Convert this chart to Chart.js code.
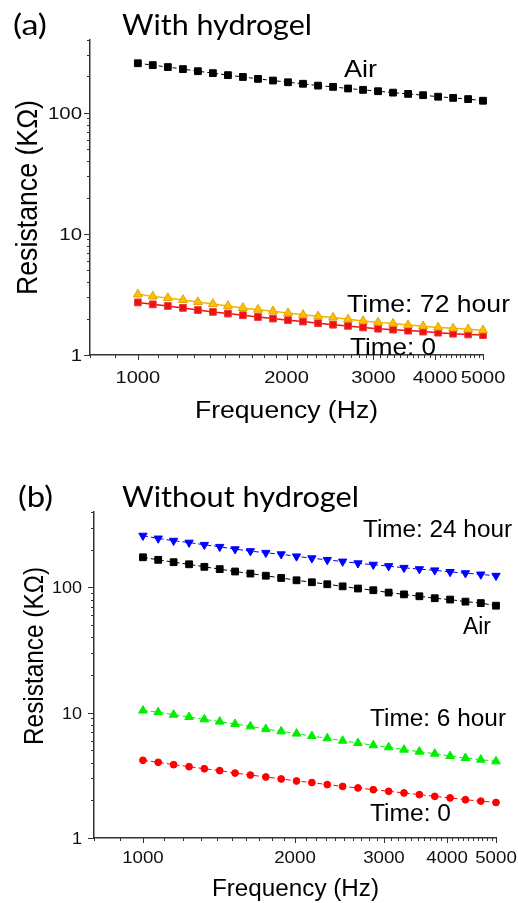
<!DOCTYPE html>
<html>
<head>
<meta charset="utf-8">
<script src="https://cdn.jsdelivr.net/npm/chart.js@4.4.1/dist/chart.umd.min.js"></script>
<style>
  html, body { margin: 0; padding: 0; background: #fff; }
  body { width: 518px; height: 903px; position: relative; overflow: hidden; }
  canvas { position: absolute; left: 0; }
  #cA { top: 0; }
  #cB { top: 450px; }
</style>
</head>
<body>
<canvas id="cA" width="518" height="450"></canvas>
<canvas id="cB" width="518" height="453"></canvas>
<script>
// ---------------- data ----------------
const freqHz = [1000, 1072, 1150, 1234, 1323, 1419, 1522, 1632, 1751, 1878, 2014, 2160,
                2317, 2485, 2665, 2858, 3065, 3287, 3526, 3782, 4056, 4350, 4665, 5000];

// (a) With hydrogel, resistance in kOhm
const withAir  = [257, 248, 239, 230, 221, 213, 205, 198, 191, 185, 179, 174,
                  168, 164, 159, 155, 151, 147, 143.5, 140, 136, 133, 130, 126];
const withT0   = [2.72, 2.62, 2.54, 2.45, 2.35, 2.27, 2.20, 2.13, 2.06, 2.00, 1.94, 1.89,
                  1.83, 1.78, 1.74, 1.69, 1.65, 1.62, 1.59, 1.56, 1.53, 1.50, 1.48, 1.46];
const withT72  = [3.17, 3.05, 2.96, 2.85, 2.74, 2.64, 2.54, 2.45, 2.37, 2.30, 2.22, 2.15,
                  2.09, 2.04, 1.97, 1.91, 1.86, 1.82, 1.77, 1.73, 1.69, 1.66, 1.63, 1.60];

// (b) Without hydrogel, resistance in kOhm
const withoutT24 = [259, 246, 236, 228, 219, 211, 202, 195, 189, 184, 177, 171,
                    166, 161, 156, 152, 148, 143.5, 140, 137, 133, 130, 127, 124];
const withoutAir = [174, 166, 159, 153, 146, 140, 134, 129, 124, 119, 114, 110,
                    106, 102, 98, 95, 91, 88, 85, 82, 80, 77, 75, 71.5];
const withoutT6  = [10.4, 10.1, 9.65, 9.24, 8.85, 8.49, 8.13, 7.78, 7.41, 7.10, 6.81, 6.52,
                    6.25, 5.98, 5.73, 5.50, 5.30, 5.07, 4.89, 4.71, 4.51, 4.35, 4.22, 4.09];
const withoutT0  = [4.17, 4.02, 3.85, 3.71, 3.57, 3.45, 3.30, 3.18, 3.07, 2.96, 2.85, 2.77,
                    2.67, 2.58, 2.51, 2.43, 2.36, 2.29, 2.22, 2.15, 2.09, 2.02, 1.97, 1.92];

// tick values / labels
const xMajorTicks = [1000, 2000, 3000, 4000, 5000];
const xTickLabels = ['1000', '2000', '3000', '4000', '5000'];
const yMajorTicks = [1, 10, 100];
const yTickLabels = ['1', '10', '100'];
const xRange = [800, 5000];
const yRange = [1, 400];

const panelTitles = ['With hydrogel', 'Without hydrogel'];
const panelLetters = ['(a)', '(b)'];
const xTitle = 'Frequency (Hz)';
const yTitle = 'Resistance (K\u03A9)';

// ---------------- helpers ----------------
const ARIAL = '"Liberation Sans", Arial, sans-serif';
const CAL = 'Lato, "Open Sans", sans-serif';

function pairs(ys) { return ys.map((y, i) => ({ x: freqHz[i], y: y })); }

function txt(ctx, s, x, y, o) {
  ctx.save();
  ctx.font = o.font;
  ctx.fillStyle = o.color || '#000';
  ctx.textBaseline = 'alphabetic';
  ctx.textAlign = 'left';
  const w = ctx.measureText(s).width;
  const sx = o.width ? o.width / w : (o.sx || 1);
  const dw = w * sx;
  let left = x;
  if (o.align === 'center') left = x - dw / 2;
  else if (o.align === 'right') left = x - dw;
  ctx.translate(left, y);
  ctx.scale(sx, 1);
  ctx.fillText(s, 0, 0);
  ctx.restore();
}
function vtxt(ctx, s, baseX, cy, o) {
  ctx.save();
  ctx.font = o.font;
  ctx.fillStyle = o.color || '#000';
  ctx.textBaseline = 'alphabetic';
  ctx.textAlign = 'left';
  const w = ctx.measureText(s).width;
  const along = o.length / w;
  ctx.translate(baseX, cy);
  ctx.scale(o.perp, 1);
  ctx.rotate(-Math.PI / 2);
  ctx.scale(along, 1);
  ctx.fillText(s, -w / 2, 0);
  ctx.restore();
}

function decorPlugin(p) {
  return {
    id: 'decor',
    afterDraw(chart) {
      const ctx = chart.ctx;
      const xs = chart.scales.x, ys = chart.scales.y;
      const area = chart.chartArea;
      const off = p.offsetY;
      ctx.save();
      ctx.strokeStyle = '#333';
      ctx.lineWidth = 1;
      // x ticks (outward, downward)
      for (let v = 800; v <= 5000; v += 100) {
        const px = Math.round(xs.getPixelForValue(v)) + 0.5;
        const major = xMajorTicks.includes(v);
        ctx.beginPath();
        ctx.moveTo(px, area.bottom);
        ctx.lineTo(px, area.bottom + (major ? 5 : 3));
        ctx.stroke();
      }
      // y ticks (outward, leftward)
      const yMinor = [];
      for (let d = 1; d <= 100; d *= 10) for (let k = 1; k <= 9; k++) if (k * d <= 400) yMinor.push(k * d);
      yMinor.push(400);
      yMinor.forEach(v => {
        const py = Math.round(ys.getPixelForValue(v)) + 0.5;
        const major = yMajorTicks.includes(v);
        ctx.beginPath();
        ctx.moveTo(area.left, py);
        ctx.lineTo(area.left - (major ? 6 : 3), py);
        ctx.stroke();
      });
      ctx.restore();

      // tick labels
      xMajorTicks.forEach((v, i) => {
        txt(ctx, xTickLabels[i], xs.getPixelForValue(v), p.xLabelBase - off,
            { font: '17px ' + ARIAL, sx: p.tickSx, align: 'center', color: '#111' });
      });
      yMajorTicks.forEach((v, i) => {
        txt(ctx, yTickLabels[i], p.yLabelRight, ys.getPixelForValue(v) + 6,
            { font: '17px ' + ARIAL, sx: p.yTickSx, align: 'right', color: '#111' });
      });
      // axis titles
      txt(ctx, xTitle, p.xTitle.x, p.xTitle.y - off, { font: '23px ' + ARIAL, width: p.xTitle.w });
      vtxt(ctx, yTitle, p.yTitle.x, p.yTitle.cy - off, { font: '24px ' + ARIAL, length: p.yTitle.len, perp: p.yTitle.perp });
      // panel letter + title
      txt(ctx, p.letter.s, p.letter.x, p.letter.y - off, { font: '28px ' + CAL, width: p.letter.w });
      txt(ctx, p.title.s, p.title.x, p.title.y - off, { font: '28px ' + CAL, width: p.title.w });
      // annotations
      p.notes.forEach(n => txt(ctx, n.s, n.x, n.y - off, { font: n.f + 'px ' + ARIAL, width: n.w }));
    }
  };
}

function makeChart(id, datasets, geo, p) {
  return new Chart(document.getElementById(id), {
    type: 'line',
    data: { datasets: datasets },
    options: {
      responsive: false,
      animation: false,
      devicePixelRatio: 1,
      layout: { padding: { left: 0, right: geo.right, top: geo.top, bottom: 0 } },
      plugins: { legend: { display: false }, tooltip: { enabled: false }, title: { display: false } },
      scales: {
        x: {
          type: 'logarithmic', min: xRange[0], max: xRange[1],
          grid: { display: false }, ticks: { display: false },
          border: { display: true, color: '#333', width: 1.5 },
          afterFit(s) { s.height = geo.xH; }
        },
        y: {
          type: 'logarithmic', min: yRange[0], max: yRange[1],
          grid: { display: false }, ticks: { display: false },
          border: { display: true, color: '#333', width: 1.5 },
          afterFit(s) { s.width = geo.yW; }
        }
      }
    },
    plugins: [decorPlugin(p)]
  });
}

function ds(label, ys, o) {
  return Object.assign({
    label: label, data: pairs(ys), clip: false, tension: 0,
    borderWidth: 1, pointBorderWidth: 1, fill: false
  }, o);
}

// ---------------- panel (a) ----------------
makeChart('cA', [
  ds('Time: 72 hour', withT72, { order: 0, borderColor: '#f2b200', backgroundColor: '#ffbf00',
      pointBackgroundColor: '#ffbf00', pointBorderColor: '#e0a400', pointStyle: 'triangle', pointRadius: 5.2, borderWidth: 1.5 }),
  ds('Time: 0', withT0, { order: 1, borderColor: '#ee1111', backgroundColor: '#ee1111',
      pointBackgroundColor: '#ee1111', pointBorderColor: '#f03a3a', pointStyle: 'rect', pointRadius: 4.8, borderWidth: 1.5 }),
  ds('Air', withAir, { order: 2, borderColor: '#000', backgroundColor: '#000', borderDash: [4, 3],
      pointBackgroundColor: '#000', pointBorderColor: '#000', pointStyle: 'rect', pointRadius: 4.8 })
], { right: 35, top: 40, xH: 95, yW: 90 }, {
  offsetY: 0, xLabelBase: 383, tickSx: 1.18, yTickSx: 1.2, yLabelRight: 82,
  xTitle: { x: 195, y: 418, w: 183 },
  yTitle: { x: 37.3, cy: 197.5, len: 195, perp: 1.2 },
  letter: { s: panelLetters[0], x: 13, y: 35, w: 34 },
  title: { s: panelTitles[0], x: 122, y: 35, w: 190 },
  notes: [
    { s: 'Air', x: 344, y: 77, f: 24, w: 33 },
    { s: 'Time: 72 hour', x: 347, y: 311.5, f: 24, w: 163 },
    { s: 'Time: 0', x: 350, y: 355, f: 24, w: 86 }
  ]
});

// ---------------- panel (b) ----------------
makeChart('cB', [
  ds('Time: 24 hour', withoutT24, { borderColor: '#0000ff', backgroundColor: '#0000ff', borderDash: [5, 3],
      pointBackgroundColor: '#0000ff', pointBorderColor: '#0000ff', pointStyle: 'triangle', pointRotation: 180, pointRadius: 4.8 }),
  ds('Air', withoutAir, { borderColor: '#000', backgroundColor: '#000', borderDash: [5, 3],
      pointBackgroundColor: '#000', pointBorderColor: '#000', pointStyle: 'rect', pointRadius: 4.8 }),
  ds('Time: 6 hour', withoutT6, { borderColor: '#00ee00', backgroundColor: '#00ee00', borderDash: [5, 3],
      pointBackgroundColor: '#00ee00', pointBorderColor: '#00ee00', pointStyle: 'triangle', pointRadius: 5 }),
  ds('Time: 0', withoutT0, { borderColor: '#ff0000', backgroundColor: '#ff0000', borderDash: [5, 3],
      pointBackgroundColor: '#ff0000', pointBorderColor: '#ff0000', pointStyle: 'circle', pointRadius: 3.4 })
], { right: 22, top: 62, xH: 65, yW: 94 }, {
  offsetY: 450, xLabelBase: 863, tickSx: 1.1, yTickSx: 1.06, yLabelRight: 82,
  xTitle: { x: 212, y: 896, w: 167 },
  yTitle: { x: 42.7, cy: 656, len: 178, perp: 1.16 },
  letter: { s: panelLetters[1], x: 18, y: 507, w: 35 },
  title: { s: panelTitles[1], x: 122, y: 506.5, w: 237 },
  notes: [
    { s: 'Time: 24 hour', x: 363, y: 536.5, f: 23, w: 149 },
    { s: 'Air', x: 463, y: 634, f: 23, w: 28 },
    { s: 'Time: 6 hour', x: 370, y: 725.5, f: 23, w: 136 },
    { s: 'Time: 0', x: 370, y: 820.5, f: 23, w: 81 }
  ]
});
</script>
</body>
</html>
